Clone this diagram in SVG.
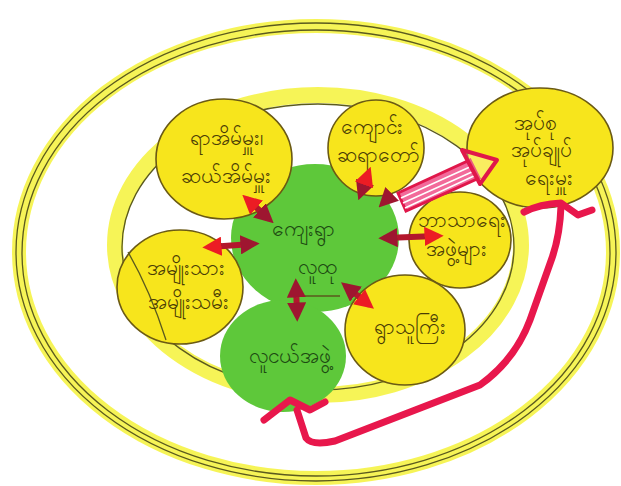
<svg xmlns="http://www.w3.org/2000/svg" width="621" height="486" viewBox="0 0 621 486">
<style>
.hl{fill:none;stroke:#f4f23a;stroke-linecap:round;opacity:0.85}
.ln{fill:none;stroke:#5b5a1e;stroke-width:1.3}
.yc{fill:#f7e51c;stroke:#6b5a14;stroke-width:1.6}
.gc{fill:#5ec83a;stroke:none}
.ty{font-family:"Noto Sans","DejaVu Sans",sans-serif;font-size:21px;fill:#4a3c05;text-anchor:middle}
.tg{font-family:"Noto Sans","DejaVu Sans",sans-serif;font-size:21px;fill:#1d4a12;text-anchor:middle}
.ar{fill:none;stroke:#b3172c;stroke-width:6;stroke-linecap:round}
.pk{fill:none;stroke:#e8174c;stroke-width:7;stroke-linecap:round;stroke-linejoin:round}
</style>
<defs>
<marker id="hr" viewBox="0 0 10 10" refX="6" refY="5" markerWidth="3.2" markerHeight="3.2" orient="auto-start-reverse" markerUnits="strokeWidth">
<path d="M0,0 L10,5 L0,10 z" fill="#ec1c24"/>
</marker>
<marker id="hd" viewBox="0 0 10 10" refX="6" refY="5" markerWidth="3.2" markerHeight="3.2" orient="auto-start-reverse" markerUnits="strokeWidth">
<path d="M0,0 L10,5 L0,10 z" fill="#9e1630"/>
</marker>
</defs>
<rect width="621" height="486" fill="#ffffff"/>
<g id="outer-ring">
<ellipse cx="316" cy="252" rx="297" ry="226" class="hl" stroke-width="14"/>
<ellipse cx="316" cy="252" rx="300" ry="229" class="ln"/>
<ellipse cx="316" cy="253" rx="294" ry="223" class="ln"/>
</g>
<g id="inner-ring">
<ellipse cx="318" cy="245" rx="203" ry="150" class="hl" stroke-width="16" opacity="0.7"/>
<ellipse cx="318" cy="247" rx="196" ry="143" class="ln"/>
</g>
<g id="n-c">
<ellipse cx="315" cy="238" rx="84" ry="74" class="gc"/>
<path d="M293,296 L340,296" class="ln"/>
</g>
<g id="n-bg">
<ellipse cx="283" cy="356" rx="63" ry="56" class="gc" fill="#66cc44"/>
<text class="tg" x="290" y="363">လူငယ်အဖွဲ့</text>
</g>
<g id="n-tl">
<ellipse cx="224" cy="159" rx="68" ry="60" class="yc"/>
<text class="ty" x="226" y="145">ရာအိမ်မှူး၊</text>
<text class="ty" x="226" y="183">ဆယ်အိမ်မှူး</text>
</g>
<g id="n-tm">
<ellipse cx="376" cy="148" rx="48" ry="48" class="yc"/>
<text class="ty" x="372" y="134">ကျောင်း</text>
<text class="ty" x="378" y="162">ဆရာတော်</text>
</g>
<g id="n-tr">
<ellipse cx="540" cy="148" rx="73" ry="60" class="yc"/>
<text class="ty" x="535" y="130" font-size="17">အုပ်စု</text>
<text class="ty" x="541" y="157" font-size="17">အုပ်ချုပ်</text>
<text class="ty" x="549" y="185" font-size="17">ရေးမှူး</text>
</g>
<g id="n-rm">
<ellipse cx="460" cy="240" rx="51" ry="48" class="yc"/>
<text class="ty" x="462" y="227" font-size="19">ဘာသာရေး</text>
<text class="ty" x="456" y="256" font-size="19">အဖွဲ့များ</text>
</g>
<g id="n-l">
<ellipse cx="180" cy="287" rx="63" ry="57" class="yc"/>
<path d="M128,252 Q150,290 166,340" class="ln"/>
<text class="ty" x="186" y="275">အမျိုးသား</text>
<text class="ty" x="188" y="309">အမျိုးသမီး</text>
</g>
<g id="n-br">
<ellipse cx="405" cy="330" rx="60" ry="55" class="yc"/>
<text class="ty" x="410" y="334">ရွာသူကြီး</text>
</g>
<g id="n-c-label">
<text class="tg" x="303" y="236">ကျေးရွာ</text>
<text class="tg" x="318" y="274">လူထု</text>
</g>
<g id="connectors">
<path d="M268,218 L248,200" class="ar" marker-start="url(#hd)" marker-end="url(#hr)"/>
<path d="M361,193 L368,174" class="ar" marker-start="url(#hd)" marker-end="url(#hr)"/>
<path d="M386,238 L436,236" class="ar" marker-start="url(#hd)" marker-end="url(#hr)"/>
<path d="M252,244 L210,247" class="ar" marker-start="url(#hd)" marker-end="url(#hr)"/>
<path d="M296,286 L297,314" class="ar" marker-start="url(#hd)" marker-end="url(#hd)"/>
<path d="M347,287 L368,304" class="ar" marker-start="url(#hd)" marker-end="url(#hr)"/>
<path d="M390,196 L384,202" class="ar" marker-end="url(#hd)"/>
<g id="hatched-arrow">
<polygon points="398,193 470,160 479,178 406,211" fill="#f26a9a" stroke="#e0174a" stroke-width="3"/>
<path d="M401,198 L472,166 M403,203 L474,171 M405,208 L476,175" stroke="#ffffff" stroke-width="1.6"/>
<polygon points="462,150 497,160 480,184" fill="#ffffff" fill-opacity="0.3" stroke="#e0174a" stroke-width="4" stroke-linejoin="round"/>
</g>
<path d="M297,410 L306,438 Q312,446 335,441 L480,385 Q515,360 530,320 L552,258 Q560,235 561,206" class="pk"/>
<path d="M264,420 L290,400 L310,410 L325,402" class="pk"/>
<path d="M524,212 Q540,204 561,203 L578,215 L592,210" class="pk"/>
</g>
</svg>
